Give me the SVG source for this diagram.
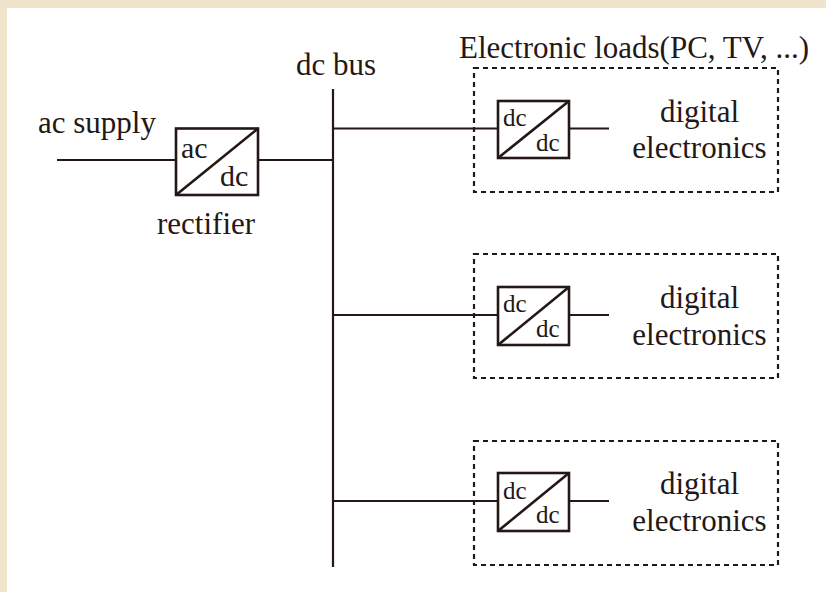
<svg xmlns="http://www.w3.org/2000/svg" width="826" height="592" viewBox="0 0 826 592">
<defs>
<style>
text{font-family:"Liberation Serif","Times New Roman",serif;fill:#231815}
.l{font-size:31px}
.a{font-size:30px}
.s{font-size:25px}
.c{text-anchor:middle}
.w{stroke:#231815;stroke-width:2.2;fill:none}
.b{stroke:#231815;stroke-width:2.6;fill:#fff}
.d{stroke:#231815;stroke-width:2.2;fill:none;stroke-dasharray:5 4}
</style>
</defs>
<rect width="826" height="592" fill="#fff"/>
<path d="M0 0H826V8H7V592H0Z" fill="#f1e4cc"/>
<g id="connectors" class="w">
<path d="M57 160H176"/>
<path d="M258 160H333"/>
<path d="M333 89V567"/>
<path d="M333 128.500H498"/>
<path d="M333 315H498"/>
<path d="M333 501H498"/>
<path d="M569 128.500H609"/>
<path d="M569 315H609"/>
<path d="M569 501H609"/>
</g>
<g id="rectifier">
<rect class="b" x="176" y="128.500" width="82" height="66.500"/>
<path class="b" d="M176 195L258 128.500"/>
<text class="a" x="181" y="158">ac</text>
<text class="a" x="220" y="186">dc</text>
</g>
<g id="load1">
<rect class="d" x="474" y="68" width="304" height="124"/>
<rect class="b" x="498" y="101" width="71" height="57"/>
<path class="b" d="M498 158L569 101"/>
<text class="s" x="503" y="126">dc</text>
<text class="s" x="536" y="151">dc</text>
<text class="l c" x="699.500" y="122">digital</text>
<text class="l c" x="699.500" y="158">electronics</text>
</g>
<g id="load2">
<rect class="d" x="474" y="254" width="304" height="124"/>
<rect class="b" x="498" y="287" width="71" height="58"/>
<path class="b" d="M498 345L569 287"/>
<text class="s" x="503" y="312">dc</text>
<text class="s" x="536" y="337">dc</text>
<text class="l c" x="699.500" y="308">digital</text>
<text class="l c" x="699.500" y="345">electronics</text>
</g>
<g id="load3">
<rect class="d" x="474" y="441" width="304" height="124"/>
<rect class="b" x="498" y="473" width="71" height="58"/>
<path class="b" d="M498 531L569 473"/>
<text class="s" x="503" y="499">dc</text>
<text class="s" x="536" y="523">dc</text>
<text class="l c" x="699.500" y="494">digital</text>
<text class="l c" x="699.500" y="531">electronics</text>
</g>
<g id="labels">
<text class="l" x="38" y="133">ac supply</text>
<text class="l" x="157" y="234">rectifier</text>
<text class="l" x="296" y="75">dc bus</text>
<text class="l" x="459" y="58">Electronic loads(PC, TV, ...)</text>
</g>
</svg>
